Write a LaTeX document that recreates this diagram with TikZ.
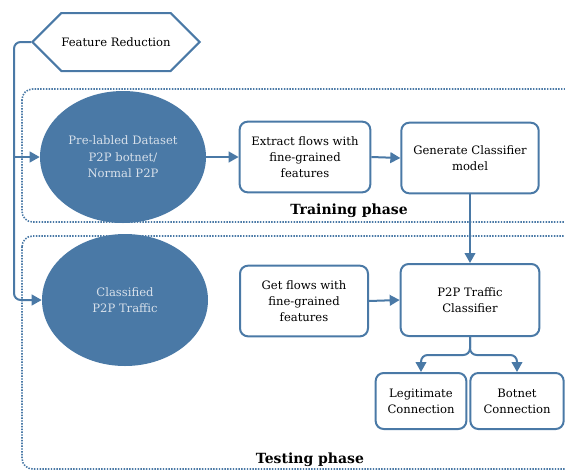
\documentclass[tikz,border=0pt]{standalone}
\usepackage{fontspec}
\setmainfont{DejaVu Serif}
\usetikzlibrary{shapes.geometric,shapes.symbols,arrows.meta}
\definecolor{flowblue}{RGB}{74,121,166}
\definecolor{paleblue}{RGB}{215,224,234}
\tikzset{
  box/.style={draw=flowblue, line width=1.5pt, rounded corners=6pt, align=center,
    inner sep=2pt, font=\fontsize{8.7}{12}\selectfont},
  blob/.style={ellipse, fill=flowblue, text=paleblue, align=center, inner sep=0pt,
    minimum width=124.5pt, minimum height=99pt, font=\fontsize{8.7}{12.4}\selectfont},
  flow/.style={draw=flowblue, line width=1.5pt, -{Triangle[length=7.5pt,width=8pt]}},
  phase/.style={draw=flowblue, line width=1.2pt, dash pattern=on 1.1pt off 1pt, rounded corners=8pt},
  phasetitle/.style={font=\fontsize{10.5}{12}\selectfont\bfseries},
}
\begin{document}
\begin{tikzpicture}[x=0.75pt, y=-0.75pt]
  \useasboundingbox (0,0) rectangle (565,472);
  \clip (0,0) rectangle (565,472);

  % phases
  \draw[phase] (22,89) rectangle (600,222);
  \draw[phase] (22,236) rectangle (600,469);
  \node[phasetitle] (train) at (349,211) {Training phase};
  \node[phasetitle] (test) at (310,460) {Testing phase};

  % feature reduction
  \node[signal, signal to=west and east, draw=flowblue, line width=1.5pt,
    minimum width=122pt, minimum height=43.5pt, inner sep=0pt,
    font=\fontsize{8.7}{10}\selectfont] (fr) at (116,42) {Feature Reduction};
  \coordinate (rail) at (14,42);

  % training
  \node[blob] (pre) at (123,157) {Pre-labled Dataset\\P2P botnet/\\Normal P2P};
  \node[box, minimum width=98pt, minimum height=53pt] (ext) at (305,157)
    {Extract flows with\\fine-grained\\features};
  \node[box, minimum width=103pt, minimum height=53pt] (gen) at (470,158)
    {Generate Classifier\\model};

  % testing
  \node[blob] (cls) at (125,300) {Classified\\P2P Traffic};
  \node[box, minimum width=96pt, minimum height=53pt] (get) at (304,301)
    {Get flows with\\fine-grained\\features};
  \node[box, minimum width=104pt, minimum height=54pt] (clf) at (470,300)
    {P2P Traffic\\Classifier};
  \node[box, minimum width=68pt, minimum height=42pt] (leg) at (421,401)
    {Legitimate\\Connection};
  \node[box, minimum width=70pt, minimum height=42pt] (bot) at (517,401)
    {Botnet\\Connection};

  % connectors
  \draw[flow, rounded corners=5pt] (fr.west) -- (rail) |- (cls.west);
  \draw[flow] (pre.west -| rail) -- (pre.west);
  \draw[flow] (pre.east) -- (ext.west);
  \draw[flow] (ext.east) -- (gen.west);
  \draw[flow] (gen.south) -- (clf.north);
  \draw[flow] (get.east) -- (clf.west);
  \draw[flow, rounded corners=5pt] (clf.south) -- ++(0,18) -| (leg.north);
  \draw[flow, rounded corners=5pt] (clf.south) -- ++(0,18) -| (bot.north);
\end{tikzpicture}
\end{document}
